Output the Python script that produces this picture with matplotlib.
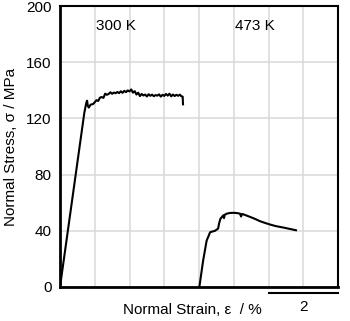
import matplotlib
matplotlib.use("Agg")
import matplotlib.pyplot as plt

plt.rcParams['font.family'] = ['Liberation Sans', 'DejaVu Sans']

# 300 K curve (strain %, stress MPa)
strain_300 = [0.0, 0.70, 0.76, 0.78, 0.80, 0.83, 0.88, 0.95, 1.00, 1.05, 1.10, 1.15, 1.20,
              1.25, 1.30, 1.35, 1.40, 1.45, 1.50, 1.55, 1.60, 1.65, 1.70, 1.75, 1.80, 1.85,
              1.90, 1.95, 2.00, 2.05, 2.10, 2.15, 2.20, 2.25, 2.30, 2.35, 2.40, 2.45, 2.50,
              2.55, 2.60, 2.65, 2.70, 2.75, 2.80, 2.85, 2.90, 2.95, 3.00, 3.05, 3.10, 3.15,
              3.20, 3.25, 3.30, 3.35, 3.40, 3.45, 3.49, 3.53, 3.54]
stress_300 = [0.0, 124.0, 131.5, 132.6, 129.0, 127.7, 129.8, 130.2, 131.5, 133.0, 132.4,
              134.8, 135.2, 134.6, 137.6, 136.8, 137.4, 138.6, 137.5, 138.4, 137.9, 138.8,
              138.0, 139.3, 138.2, 139.6, 138.7, 139.9, 139.2, 140.6, 138.3, 139.4, 137.0,
              138.3, 135.9, 137.4, 136.3, 137.0, 135.6, 137.2, 136.1, 136.9, 135.8, 136.6,
              136.2, 137.1, 135.5, 136.8, 136.0, 137.4, 136.2, 137.6, 135.7, 137.0, 135.9,
              136.8, 136.1, 136.9, 135.8, 135.5, 130.0]

# 473 K curve
strain_473 = [4.01, 4.12, 4.22, 4.32, 4.46, 4.55, 4.58, 4.62, 4.70, 4.72, 4.74, 4.80, 4.89,
              5.00, 5.10, 5.18, 5.21, 5.24, 5.30, 5.47, 5.60, 5.76, 5.90, 6.04, 6.20, 6.43,
              6.60, 6.79]
stress_473 = [0.0, 19.0, 33.0, 39.0, 40.0, 41.6, 45.5, 48.7, 51.0, 49.0, 51.4, 52.2, 52.7,
              52.8, 52.6, 52.2, 50.2, 52.0, 51.5, 49.9, 48.6, 46.8, 45.6, 44.5, 43.4, 42.3,
              41.4, 40.4]

y_ticks = [0, 40, 80, 120, 160, 200]
x_grid = [0, 1, 2, 3, 4, 5, 6, 7, 8]

fig = plt.figure(figsize=(3.5, 3.21), dpi=100)
ax = fig.add_axes([60/350, 1-287/321, (338-60)/350, (287-6)/321])

ax.plot(strain_300, stress_300, color='black', lw=1.5, solid_joinstyle='round')
ax.plot(strain_473, stress_473, color='black', lw=1.5, solid_joinstyle='round')

ax.set_xlim(0, 8)
ax.set_ylim(0, 200)
ax.set_yticks(y_ticks)
ax.set_yticklabels([str(t) for t in y_ticks], fontsize=11)
ax.set_xticks(x_grid)
ax.set_xticklabels([])
ax.tick_params(length=0, pad=6)
ax.grid(True, color='#d9d9d9', lw=1.1)
ax.set_axisbelow(True)

for s in ['top', 'right']:
    ax.spines[s].set_linewidth(1.5)
for s in ['left', 'bottom']:
    ax.spines[s].set_linewidth(2.0)

ax.text(1.6, 186, '300 K', fontsize=11, ha='center', va='center')
ax.text(5.6, 186, '473 K', fontsize=11, ha='center', va='center')

ax.set_ylabel('Normal Stress, σ / MPa', fontsize=11, labelpad=6)
fig.text(192/350, 1-310/321, 'Normal Strain, ε  / %', fontsize=11, ha='center', va='center')

# scale bar 2 %
ax.plot([6.0, 8.0], [-4.0, -4.0], color='black', lw=1.5, clip_on=False)
fig.text(304/350, 1-307/321, '2', fontsize=11, ha='center', va='center')

fig.savefig('out.png', dpi=100)
